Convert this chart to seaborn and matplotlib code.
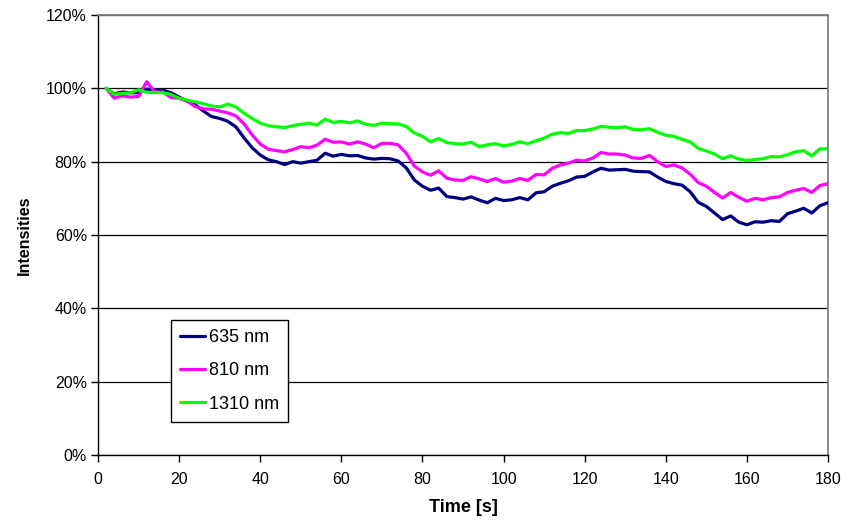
import numpy as np
import pandas as pd
import matplotlib
matplotlib.use("Agg")
import matplotlib.pyplot as plt
import seaborn as sns
from matplotlib.ticker import PercentFormatter

# Time axis (s), one sample every 2 s
time_s = np.arange(2, 181, 2)

# Relative intensities (%) per wavelength
i_635 = [100.0, 98.5, 99.0, 98.8, 98.8, 99.8, 99.6, 99.5, 98.8, 97.6,
         96.5, 95.5, 93.8, 92.3, 91.8, 91.0, 89.5, 86.5, 83.8, 81.8,
         80.5, 80.0, 79.2, 80.0, 79.6, 80.0, 80.4, 82.3, 81.5, 82.0,
         81.6, 81.7, 81.0, 80.7, 80.9, 80.8, 80.2, 78.3, 75.0, 73.3,
         72.2, 72.8, 70.5, 70.2, 69.8, 70.4, 69.5, 68.8, 70.0, 69.4,
         69.6, 70.2, 69.6, 71.5, 71.8, 73.3, 74.1, 74.8, 75.8, 76.0,
         77.2, 78.2, 77.7, 77.8, 77.9, 77.4, 77.3, 77.2, 75.8, 74.6,
         74.0, 73.6, 71.8, 68.9, 67.8, 66.0, 64.2, 65.2, 63.5, 62.8,
         63.6, 63.5, 63.9, 63.7, 65.8, 66.5, 67.3, 66.0, 68.0, 68.8]

i_810 = [100.0, 97.3, 98.0, 97.6, 97.8, 101.8, 99.0, 99.0, 97.5, 97.3,
         96.5, 95.0, 94.4, 94.3, 93.8, 93.3, 92.5, 90.3, 87.3, 84.8,
         83.4, 83.0, 82.7, 83.3, 84.1, 83.8, 84.5, 86.1, 85.3, 85.4,
         84.8, 85.4, 84.8, 83.8, 85.0, 85.0, 84.6, 82.3, 78.8, 77.2,
         76.3, 77.5, 75.5, 75.0, 74.9, 75.9, 75.3, 74.6, 75.4, 74.4,
         74.7, 75.4, 74.9, 76.5, 76.4, 78.2, 79.1, 79.6, 80.4, 80.2,
         81.0, 82.5, 82.1, 82.1, 81.8, 81.0, 80.9, 81.7, 80.0, 78.7,
         79.1, 78.3, 76.6, 74.3, 73.3, 71.6, 70.1, 71.6, 70.3, 69.2,
         70.0, 69.6, 70.2, 70.4, 71.6, 72.2, 72.7, 71.6, 73.5, 74.0]

i_1310 = [100.0, 98.4, 98.6, 98.8, 99.6, 98.9, 98.9, 98.8, 98.3, 97.3,
          96.8, 96.3, 95.8, 95.2, 94.9, 95.7, 94.9, 93.2, 91.8, 90.5,
          89.8, 89.5, 89.3, 89.8, 90.2, 90.5, 90.0, 91.6, 90.7, 91.0,
          90.6, 91.1, 90.2, 89.9, 90.5, 90.4, 90.3, 89.6, 87.8, 86.9,
          85.4, 86.3, 85.2, 84.9, 84.8, 85.3, 84.1, 84.6, 84.9, 84.3,
          84.7, 85.4, 84.9, 85.7, 86.4, 87.5, 87.9, 87.7, 88.5, 88.5,
          88.9, 89.6, 89.4, 89.3, 89.5, 88.8, 88.7, 89.0, 88.0, 87.2,
          86.9, 86.1, 85.4, 83.6, 82.9, 82.1, 80.8, 81.6, 80.7, 80.3,
          80.6, 80.8, 81.4, 81.3, 81.9, 82.7, 83.0, 81.6, 83.5, 83.5]

series_names = ["635 nm", "810 nm", "1310 nm"]
series_colors = ["#000080", "#FF00FF", "#00FF00"]

x_ticks = list(range(0, 181, 20))
y_ticks = list(range(0, 121, 20))

df = pd.DataFrame({
    "Time [s]": np.tile(time_s, 3),
    "Intensities": np.concatenate([i_635, i_810, i_1310]),
    "Wavelength": np.repeat(series_names, len(time_s)),
})

sns.set_theme(style="white")
plt.rcParams["font.family"] = ["Liberation Sans", "DejaVu Sans"]
plt.rcParams["text.color"] = "black"
plt.rcParams["axes.labelcolor"] = "black"

fig = plt.figure(figsize=(8.54, 5.23), dpi=100)
ax = fig.add_axes([0.1148, 0.130, 0.8548, 0.8413])

sns.lineplot(data=df, x="Time [s]", y="Intensities", hue="Wavelength",
             palette=dict(zip(series_names, series_colors)),
             linewidth=2.3, ax=ax, zorder=3)

ax.set_xlim(0, 180)
ax.set_ylim(0, 120)
ax.set_xticks(x_ticks)
ax.set_yticks(y_ticks)
ax.yaxis.set_major_formatter(PercentFormatter(decimals=0))

ax.grid(axis="y", color="black", linewidth=0.9, zorder=1)
ax.grid(axis="x", visible=False)
ax.set_axisbelow(True)

for side in ("left", "bottom"):
    ax.spines[side].set_color("black")
    ax.spines[side].set_linewidth(1.0)
for side in ("top", "right"):
    ax.spines[side].set_color("#808080")
    ax.spines[side].set_linewidth(1.3)

ax.tick_params(axis="both", which="major", direction="out", length=5,
               width=1.0, color="black", labelsize=11.5, labelcolor="black",
               left=True, bottom=True)
ax.tick_params(axis="x", pad=7)
ax.tick_params(axis="y", pad=3)

ax.set_xlabel("Time [s]", fontsize=13, fontweight="bold", labelpad=9)
ax.set_ylabel("Intensities", fontsize=11.5, fontweight="bold", labelpad=10)

leg = ax.legend(loc="lower left", bbox_to_anchor=(0.1, 0.076),
                borderaxespad=0, frameon=True, fancybox=False,
                edgecolor="black", framealpha=1, fontsize=13,
                handlelength=1.4, handletextpad=0.2, labelspacing=0.9,
                borderpad=0.5, title=None)
leg.get_frame().set_linewidth(1.0)
for txt in leg.get_texts():
    txt.set_color("black")

fig.savefig("out.png", dpi=100, facecolor="white")
